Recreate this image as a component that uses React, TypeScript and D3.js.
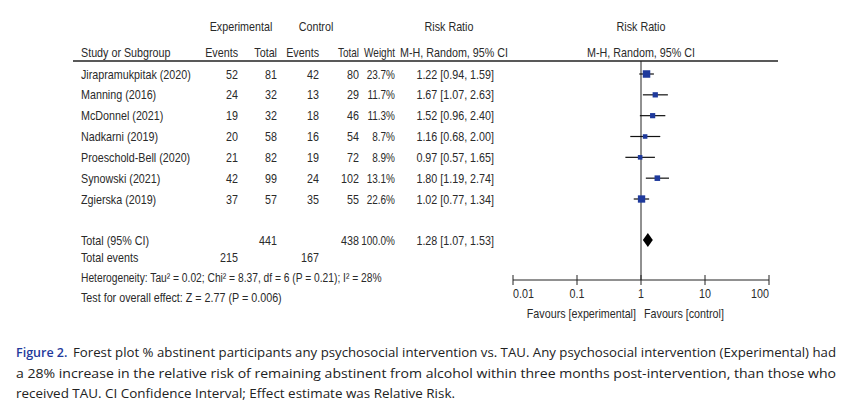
import * as d3 from 'd3'

// study rows
const studies = ['Jirapramukpitak (2020)', 'Manning (2016)', 'McDonnel (2021)', 'Nadkarni (2019)', 'Proeschold-Bell (2020)', 'Synowski (2021)', 'Zgierska (2019)']
const expEvents = [52, 24, 19, 20, 21, 42, 37]
const expTotal = [81, 32, 32, 58, 82, 99, 57]
const ctlEvents = [42, 13, 18, 16, 19, 24, 35]
const ctlTotal = [80, 29, 46, 54, 72, 102, 55]
const weights = [23.7, 11.7, 11.3, 8.7, 8.9, 13.1, 22.6]
const rr = [1.22, 1.67, 1.52, 1.16, 0.97, 1.80, 1.02]
const lo = [0.94, 1.07, 0.96, 0.68, 0.57, 1.19, 0.77]
const hi = [1.59, 2.63, 2.40, 2.00, 1.65, 2.74, 1.34]

// pooled
const total = { exp: 441, ctl: 438, expEv: 215, ctlEv: 167, rr: 1.28, lo: 1.07, hi: 1.53 }
const heterogeneity = 'Heterogeneity: Tau² = 0.02; Chi² = 8.37, df = 6 (P = 0.21); I² = 28%'
const overall = 'Test for overall effect: Z = 2.77 (P = 0.006)'

const axisTicks = [0.01, 0.1, 1, 10, 100]
const axisLabels = ['0.01', '0.1', '1', '10', '100']

const captionLines = [
  'Forest plot % abstinent participants any psychosocial intervention vs. TAU. Any psychosocial intervention (Experimental) had',
  'a 28% increase in the relative risk of remaining abstinent from alcohol within three months post-intervention, than those who',
  'received TAU. CI Confidence Interval; Effect estimate was Relative Risk.',
]

const W = 851
const H = 416
const font = '"Liberation Sans", Arial, sans-serif'
const txt = '#2a2a2a'
const blue = '#1f3a9c'

const fmt2 = d3.format('.2f')

// narrow text: Liberation Sans squeezed to look like Arial Narrow
function T({ x, y, a = 'start', s = 0.86, children }: { x: number; y: number; a?: string; s?: number; children: any }) {
  return (
    <text transform={`translate(${x},${y}) scale(${s},1)`} textAnchor={a}>
      {children}
    </text>
  )
}

export default function App() {
  const x = d3.scaleLog().domain([0.01, 100]).range([513, 769])
  const rowY = d3.scaleLinear().domain([0, 6]).range([74, 199])
  const size = d3.scaleSqrt().domain([0, 23.7]).range([0, 7.5])
  const yTotal = 240
  const yAxis = 280

  const cols = { ee: 238, et: 277, ce: 319, ct: 359, w: 395, ci: 494 }
  const ciText = (r: number, l: number, h: number) => `${fmt2(r)} [${fmt2(l)}, ${fmt2(h)}]`

  return (
    <div style={{ position: 'absolute', left: 0, top: 0 }}>
      <svg width={W} height={H} style={{ display: 'block', background: '#fff' }}>
        <g fontFamily={font} fontSize={12.5} fill={txt}>
          {/* header */}
          <T x={241} y={31} a="middle">Experimental</T>
          <T x={316} y={31} a="middle">Control</T>
          <T x={449} y={31} a="middle">Risk Ratio</T>
          <T x={641} y={31} a="middle">Risk Ratio</T>
          <T x={81} y={57}>Study or Subgroup</T>
          <T x={cols.ee} y={57} a="end">Events</T>
          <T x={cols.et} y={57} a="end">Total</T>
          <T x={cols.ce} y={57} a="end">Events</T>
          <T x={cols.ct} y={57} a="end" s={0.8}>Total</T>
          <T x={cols.w} y={57} a="end" s={0.8}>Weight</T>
          <T x={454} y={57} a="middle">M-H, Random, 95% CI</T>
          <T x={641} y={57} a="middle">M-H, Random, 95% CI</T>

          {/* studies */}
          {studies.map((s, i) => {
            const y = rowY(i) + 4.5
            return (
              <g key={s}>
                <T x={81} y={y}>{s}</T>
                <T x={cols.ee} y={y} a="end">{expEvents[i]}</T>
                <T x={cols.et} y={y} a="end">{expTotal[i]}</T>
                <T x={cols.ce} y={y} a="end">{ctlEvents[i]}</T>
                <T x={cols.ct} y={y} a="end">{ctlTotal[i]}</T>
                <T x={cols.w} y={y} a="end" s={0.8}>{weights[i].toFixed(1)}%</T>
                <T x={cols.ci} y={y} a="end">{ciText(rr[i], lo[i], hi[i])}</T>
              </g>
            )
          })}

          {/* totals */}
          <T x={81} y={yTotal + 4.5}>Total (95% CI)</T>
          <T x={cols.et} y={yTotal + 4.5} a="end">{total.exp}</T>
          <T x={cols.ct} y={yTotal + 4.5} a="end">{total.ctl}</T>
          <T x={cols.w} y={yTotal + 4.5} a="end" s={0.8}>100.0%</T>
          <T x={cols.ci} y={yTotal + 4.5} a="end">{ciText(total.rr, total.lo, total.hi)}</T>
          <T x={81} y={262}>Total events</T>
          <T x={cols.ee} y={262} a="end">{total.expEv}</T>
          <T x={cols.ce} y={262} a="end">{total.ctlEv}</T>
          <T x={81} y={282} s={0.82}>{heterogeneity}</T>
          <T x={81} y={302}>{overall}</T>

          {/* axis labels */}
          {axisTicks.map((t, i) => (
            <T key={t} x={x(t)} y={298} a={i === 0 ? 'start' : i === axisTicks.length - 1 ? 'end' : 'middle'}>
              {axisLabels[i]}
            </T>
          ))}
          <T x={x(1) - 5} y={318} a="end">Favours [experimental]</T>
          <T x={x(1) + 3} y={318}>Favours [control]</T>
        </g>

        <line x1={73} x2={778} y1={61} y2={61} stroke="#222" strokeWidth={1.6} />

        {/* plot */}
        <line x1={x(1)} x2={x(1)} y1={61} y2={yAxis} stroke="#222" strokeWidth={1} />
        {studies.map((s, i) => {
          const y = rowY(i)
          const sz = size(weights[i])
          return (
            <g key={s}>
              <line x1={x(lo[i])} x2={x(hi[i])} y1={y} y2={y} stroke="#111" strokeWidth={1.2} />
              <rect x={x(rr[i]) - sz / 2} y={y - sz / 2} width={sz} height={sz} fill={blue} />
            </g>
          )
        })}
        <path
          d={`M${x(total.lo)},${yTotal} L${x(total.rr)},${yTotal - 7} L${x(total.hi)},${yTotal} L${x(total.rr)},${yTotal + 7} Z`}
          fill="#000"
        />

        {/* axis */}
        <line x1={x(0.01)} x2={x(100)} y1={yAxis} y2={yAxis} stroke="#222" strokeWidth={1} />
        {axisTicks.map(t => (
          <line key={t} x1={x(t)} x2={x(t)} y1={yAxis - 5} y2={yAxis + 5} stroke="#222" strokeWidth={1} />
        ))}

        {/* caption */}
        <g fontFamily='"Open Sans", "Noto Sans", sans-serif' fontSize={12.5} fill="#222">
          <text x={16} y={357} fill={blue} fontWeight={600}>Figure 2.</text>
          <text x={73} y={357} textLength={836 - 73} lengthAdjust="spacingAndGlyphs">{captionLines[0]}</text>
          <text x={16} y={378} textLength={836 - 16} lengthAdjust="spacingAndGlyphs">{captionLines[1]}</text>
          <text x={16} y={398} textLength={455 - 16} lengthAdjust="spacingAndGlyphs">{captionLines[2]}</text>
        </g>
      </svg>
    </div>
  )
}
